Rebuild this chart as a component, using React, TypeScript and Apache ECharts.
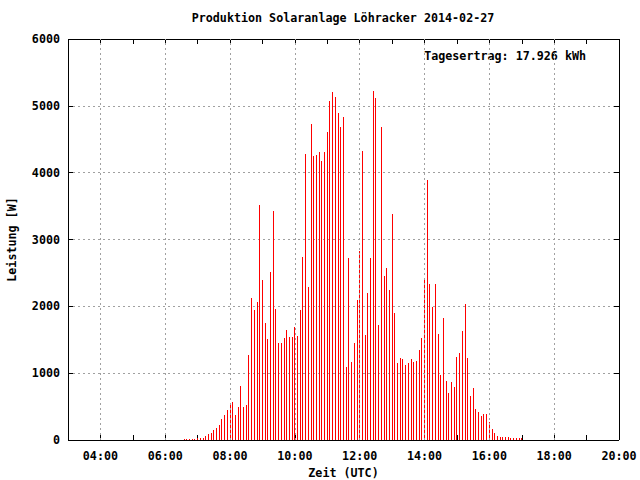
import React, { useEffect, useRef } from 'react';
import * as echarts from 'echarts';

const TITLE = 'Produktion Solaranlage Löhracker 2014-02-27';
const YIELD_TEXT = 'Tagesertrag: 17.926 kWh';
const X_NAME = 'Zeit (UTC)';
const Y_NAME = 'Leistung [W]';

const times = [
  '06:35', '06:40', '06:45', '06:50', '06:55',
  '07:00', '07:05', '07:10', '07:15', '07:20', '07:25', '07:30', '07:35', '07:40', '07:45', '07:50', '07:55',
  '08:00', '08:05', '08:10', '08:15', '08:20', '08:25', '08:30', '08:35', '08:40', '08:45', '08:50', '08:55',
  '09:00', '09:05', '09:10', '09:15', '09:20', '09:25', '09:30', '09:35', '09:40', '09:45', '09:50', '09:55',
  '10:00', '10:05', '10:10', '10:15', '10:20', '10:25', '10:30', '10:35', '10:40', '10:45', '10:50', '10:55',
  '11:00', '11:05', '11:10', '11:15', '11:20', '11:25', '11:30', '11:35', '11:40', '11:45', '11:50', '11:55',
  '12:00', '12:05', '12:10', '12:15', '12:20', '12:25', '12:30', '12:35', '12:40', '12:45', '12:50', '12:55',
  '13:00', '13:05', '13:10', '13:15', '13:20', '13:25', '13:30', '13:35', '13:40', '13:45', '13:50', '13:55',
  '14:00', '14:05', '14:10', '14:15', '14:20', '14:25', '14:30', '14:35', '14:40', '14:45', '14:50', '14:55',
  '15:00', '15:05', '15:10', '15:15', '15:20', '15:25', '15:30', '15:35', '15:40', '15:45', '15:50', '15:55',
  '16:00', '16:05', '16:10', '16:15', '16:20', '16:25', '16:30', '16:35', '16:40', '16:45', '16:50', '16:55',
  '17:00',
];

const power = [
  15, 15, 15, 15, 15,
  30, 30, 30, 60, 90, 105, 150, 180, 225, 315, 375, 450,
  522, 567, 373, 493, 806, 493, 522, 1269, 2119, 1940, 2060, 3522,
  2388, 1746, 1507, 2507, 3433, 1955, 1448, 1448, 1522, 1642, 1537, 1537,
  1687, 1552, 1940, 2731, 4284, 2284, 4731, 4254, 4269, 4313, 4179, 4313,
  4612, 5075, 5209, 5134, 4895, 4686, 4836, 1090, 2716, 1164, 1448, 2090,
  2821, 4328, 1567, 2194, 2716, 5224, 5119, 1716, 4686, 2448, 2567, 2239,
  3388, 1895, 1149, 1224, 1209, 1119, 1149, 1209, 1164, 1179, 1343, 1522,
  2403, 3895, 2328, 1985, 2328, 1582, 970, 1821, 881, 701, 866, 791,
  1239, 1299, 1627, 2030, 1224, 657, 776, 463, 418, 358, 388, 388,
  269, 164, 104, 60, 45, 45, 45, 45, 30, 30, 30, 30,
  30,
];

const xGridHours = [4, 6, 8, 10, 12, 14, 16, 18];

const FONT = '"DejaVu Sans Mono", "Liberation Mono", monospace';
const FS = 11.7;

function toHours(t: string): number {
  const [h, m] = t.split(':').map(Number);
  return h + m / 60;
}

function fmtHour(v: number): string {
  if (Math.round(v) % 2 !== 0) return '';
  const h = Math.round(v);
  return (h < 10 ? '0' : '') + h + ':00';
}

export default function App() {
  const ref = useRef<HTMLDivElement>(null);

  useEffect(() => {
    if (!ref.current) return;
    const chart = echarts.init(ref.current, undefined, { renderer: 'svg' });
    const data = times.map((t, i) => [toHours(t), power[i]]);
    const textStyle = { color: '#000', fontFamily: FONT, fontSize: FS, fontWeight: 'bold' as const };

    chart.setOption({
      animation: false,
      backgroundColor: '#fff',
      grid: {
        left: 68,
        top: 39,
        width: 551,
        height: 401,
        containLabel: false,
        outerBoundsMode: 'none',
      },
      xAxis: [
        {
          type: 'value',
          position: 'bottom',
          min: 3,
          max: 20,
          interval: 1,
          axisLine: { show: true, onZero: false, lineStyle: { color: '#000', width: 1 } },
          axisTick: { show: true, inside: true, length: 5, lineStyle: { color: '#000' } },
          axisLabel: { ...textStyle, formatter: fmtHour, margin: 10, showMaxLabel: true, showMinLabel: true, hideOverlap: false },
          splitLine: { show: false },
          name: X_NAME,
          nameLocation: 'middle',
          nameGap: 26,
          nameTextStyle: textStyle,
        },
        {
          type: 'value',
          position: 'top',
          min: 3,
          max: 20,
          interval: 1,
          axisLine: { show: true, onZero: false, lineStyle: { color: '#000', width: 1 } },
          axisTick: { show: true, inside: true, length: 5, lineStyle: { color: '#000' } },
          axisLabel: { show: false },
          splitLine: { show: false },
        },
      ],
      yAxis: [
        {
          type: 'value',
          position: 'left',
          min: 0,
          max: 6000,
          interval: 1000,
          axisLine: { show: true, onZero: false, lineStyle: { color: '#000', width: 1 } },
          axisTick: { show: true, inside: true, length: 5, lineStyle: { color: '#000' } },
          axisLabel: { ...textStyle, margin: 8, formatter: (v: number) => String(v) },
          splitLine: { show: true, lineStyle: { color: '#a0a0a0', type: [2, 3], width: 1 } },
          name: Y_NAME,
          nameLocation: 'middle',
          nameGap: 50,
          nameRotate: 90,
          nameTextStyle: textStyle,
        },
        {
          type: 'value',
          position: 'right',
          min: 0,
          max: 6000,
          interval: 1000,
          axisLine: { show: true, onZero: false, lineStyle: { color: '#000', width: 1 } },
          axisTick: { show: true, inside: true, length: 5, lineStyle: { color: '#000' } },
          axisLabel: { show: false },
          splitLine: { show: false },
        },
      ],
      series: [
        {
          type: 'line',
          data: [],
          xAxisIndex: 0,
          yAxisIndex: 0,
          z: 1,
          silent: true,
          markLine: {
            silent: true,
            symbol: 'none',
            label: { show: false },
            lineStyle: { color: '#a0a0a0', type: [2, 3], width: 1 },
            data: xGridHours.map((h) => ({ xAxis: h })),
          },
        },
        {
          type: 'bar',
          xAxisIndex: 0,
          yAxisIndex: 0,
          data,
          barWidth: 1,
          z: 3,
          itemStyle: { color: '#ff0000' },
        },
      ],
      graphic: [
        {
          type: 'text',
          x: 343,
          y: 18,
          style: {
            text: TITLE,
            fill: '#000',
            font: `bold ${FS}px ${FONT}`,
            align: 'center',
            verticalAlign: 'middle',
          },
        },
        {
          type: 'text',
          x: 586,
          y: 56,
          style: {
            text: YIELD_TEXT,
            fill: '#000',
            font: `bold ${FS}px ${FONT}`,
            align: 'right',
            verticalAlign: 'middle',
          },
        },
      ],
    });

    return () => chart.dispose();
  }, []);

  return (
    <>
      <style>{`#solar-chart svg path { shape-rendering: crispEdges; }`}</style>
      <div
        id="solar-chart"
        ref={ref}
        style={{ position: 'absolute', left: 0, top: 0, width: 640, height: 480, background: '#fff' }}
      />
    </>
  );
}
